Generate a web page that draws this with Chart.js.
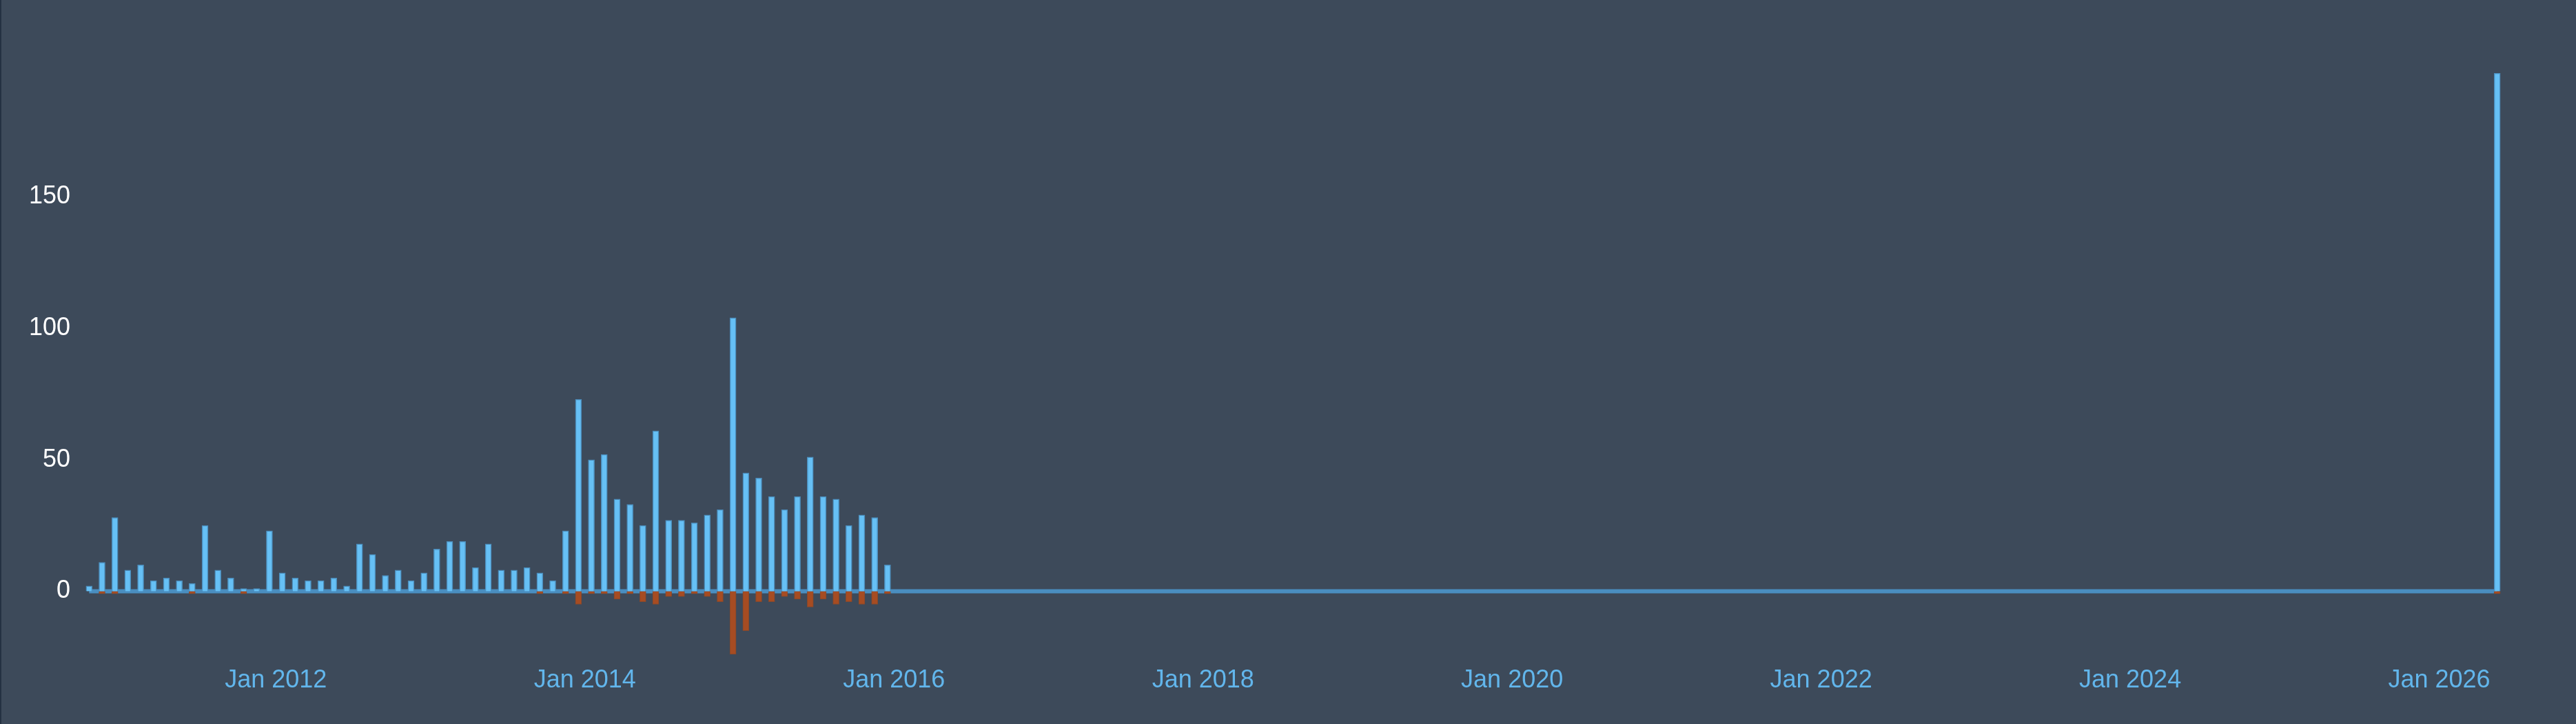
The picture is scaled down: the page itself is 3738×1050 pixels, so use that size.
<!DOCTYPE html>
<html>
<head>
<meta charset="utf-8">
<script src="https://cdn.jsdelivr.net/npm/chart.js@4.4.1/dist/chart.umd.min.js"></script>
<style>
  html, body { margin: 0; padding: 0; background: #3d4a5a; }
  #wrap { width: 3738px; height: 1050px; position: relative; border-left: 2px solid #243142; box-sizing: border-box; }
  canvas { display: block; }
</style>
</head>
<body>
<div id="wrap"><canvas id="freqChart" width="3736" height="1050"></canvas></div>
<script>
// months with commits (YYYY-MM)
const months = [
  '2010-10', '2010-11', '2010-12',
  '2011-01', '2011-02', '2011-03', '2011-04', '2011-05', '2011-06', '2011-07', '2011-08', '2011-09', '2011-10', '2011-11', '2011-12',
  '2012-01', '2012-02', '2012-03', '2012-04', '2012-05', '2012-06', '2012-07', '2012-08', '2012-09', '2012-10', '2012-11', '2012-12',
  '2013-01', '2013-02', '2013-03', '2013-04', '2013-05', '2013-06', '2013-07', '2013-08', '2013-09', '2013-10', '2013-11', '2013-12',
  '2014-01', '2014-02', '2014-03', '2014-04', '2014-05', '2014-06', '2014-07', '2014-08', '2014-09', '2014-10', '2014-11', '2014-12',
  '2015-01', '2015-02', '2015-03', '2015-04', '2015-05', '2015-06', '2015-07', '2015-08', '2015-09', '2015-10', '2015-11', '2015-12',
  '2026-05'
];
const additions = [
  2, 11, 28,
  8, 10, 4, 5, 4, 3, 25, 8, 5, 1, 1, 23,
  7, 5, 4, 4, 5, 2, 18, 14, 6, 8, 4, 7,
  16, 19, 19, 9, 18, 8, 8, 9, 7, 4, 23, 73,
  50, 52, 35, 33, 25, 61, 27, 27, 26, 29, 31, 104,
  45, 43, 36, 31, 36, 51, 36, 35, 25, 29, 28, 10,
  197
];
const deletions = [
  0, -1, -1,
  0, 0, 0, 0, 0, -1, 0, 0, 0, -1, 0, 0,
  0, 0, 0, 0, 0, 0, 0, 0, 0, 0, 0, 0,
  0, 0, 0, 0, 0, 0, 0, 0, -1, 0, -1, -5,
  -1, -1, -3, -1, -4, -5, -2, -2, -1, -2, -4, -24,
  -15, -4, -4, -2, -3, -6, -3, -5, -4, -5, -5, -1,
  -1
];
const yearTicks = ['Jan 2012', 'Jan 2014', 'Jan 2016', 'Jan 2018', 'Jan 2020', 'Jan 2022', 'Jan 2024', 'Jan 2026'];

// month string -> decimal year, bar centred in the middle of the month
const toYear = (m) => {
  const [y, mo] = m.split('-').map(Number);
  return y + (mo - 1) / 12 + 1 / 24;
};
const xs = months.map(toYear);
const addPts = xs.map((x, i) => ({ x: x, y: additions[i] }));
const delPts = xs.map((x, i) => ({ x: x, y: deletions[i] }));
const basePts = [{ x: xs[0], y: 0 }, { x: xs[xs.length - 1], y: 0 }];

Chart.defaults.font.family = "'Liberation Sans', Arial, sans-serif";
Chart.defaults.font.size = 36;

const ctx = document.getElementById('freqChart').getContext('2d');
new Chart(ctx, {
  type: 'bar',
  data: {
    datasets: [
      {
        type: 'line',
        label: 'baseline',
        data: basePts,
        borderColor: '#4a8ec0',
        borderWidth: 6,
        pointRadius: 0,
        order: 3,
      },
      {
        label: 'Additions',
        data: addPts,
        backgroundColor: '#66c0f5',
        borderColor: 'rgba(78,150,200,0.9)',
        borderWidth: 1.5,
        barThickness: 9,
        grouped: false,
        order: 1,
      },
      {
        label: 'Deletions',
        data: delPts,
        backgroundColor: '#a64c22',
        borderColor: 'rgba(140,72,40,0.9)',
        borderWidth: 1,
        barThickness: 9,
        grouped: false,
        order: 2,
      },
    ],
  },
  options: {
    responsive: false,
    animation: false,
    layout: { padding: { top: 106, right: 105, left: 0, bottom: 0 } },
    plugins: { legend: { display: false }, tooltip: { enabled: false } },
    scales: {
      x: {
        type: 'linear',
        offset: false,
        min: 2010.75,
        max: 2026.4167,
        grid: { display: false, drawTicks: false },
        border: { display: false },
        afterFit: (s) => { s.height = 101; },
        ticks: {
          stepSize: 2,
          includeBounds: false,
          autoSkip: false,
          maxRotation: 0,
          padding: 16,
          color: '#62b6ec',
          callback: (v) => {
            const lbl = 'Jan ' + v;
            return yearTicks.includes(lbl) ? lbl : '';
          },
        },
      },
      y: {
        min: Math.min(...deletions),
        max: Math.max(...additions),
        grid: { display: false, drawTicks: false },
        border: { display: false },
        afterFit: (s) => { s.width = 118; },
        ticks: {
          stepSize: 50,
          includeBounds: false,
          padding: 18,
          color: '#ffffff',
        },
      },
    },
  },
});
</script>
</body>
</html>
